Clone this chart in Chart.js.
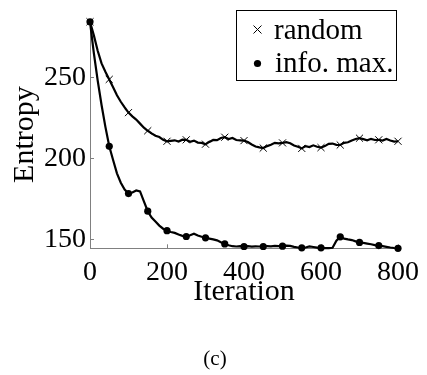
<!DOCTYPE html>
<html><head><meta charset="utf-8">
<script src="https://cdn.jsdelivr.net/npm/chart.js@4/dist/chart.umd.min.js"></script>
<style>html,body{margin:0;padding:0;background:#fff;}</style>
</head><body>
<canvas id="c" width="427" height="375" style="display:block;width:427px;height:375px"></canvas>
<script>
const iterations = [0,10,20,30,40,50,60,70,80,90,100,110,120,130,140,150,160,170,180,190,200,210,220,230,240,250,260,270,280,290,300,310,320,330,340,350,360,370,380,390,400,410,420,430,440,450,460,470,480,490,500,510,520,530,540,550,560,570,580,590,600,610,620,630,640,650,660,670,680,690,700,710,720,730,740,750,760,770,780,790,800];
const randomEntropy = [284.4,276,266.5,258.7,253.5,248.8,244,239,235,231.5,228.3,226,224,221.5,219,217.1,215.5,214,213.2,211.5,210.6,210.9,211.2,210.4,211.6,211.5,210.3,211.0,209.8,209.6,208.8,210.2,211.4,211.3,212.6,213.1,212.0,212.6,211.4,211.2,211.0,210.1,208.6,207.4,206.8,206.4,207.6,208.4,209.6,209.3,209.6,210.1,209.4,208.0,207.2,206.2,207.6,207.0,208.1,207.2,206.7,207.6,209.0,209.2,208.4,208.3,209.6,210.0,211.1,212.0,212.5,211.9,211.2,212.1,211.4,211.5,211.0,212.0,211.1,210.4,210.6];
const infoMaxEntropy = [284.4,265,248,233,219.5,207.5,199,190.8,185,180.8,178.3,179,180.2,179.6,173.5,167.4,163.5,161,158.5,156.6,155.4,154.6,154,153,152.2,151.8,152.6,153.5,152.4,151.6,151,150.5,150,149.4,148.2,147.2,146.4,145.8,145.6,145.8,145.6,145.8,145.5,145.7,145.6,145.6,145.9,145.7,146,145.8,145.8,146.2,146,145.4,145,144.8,145,145.7,145.3,144.9,144.8,144.6,144.6,144.8,149.2,151.6,150.5,150,149.6,148.8,148.1,147.8,147.4,147,146.5,146.2,145.8,145.4,145,144.7,144.5];
const markerIterations = [0,50,100,150,200,250,300,350,400,450,500,550,600,650,700,750,800];
const xTickValues = [0,200,400,600,800];
const yTickValues = [150,200,250];
const seriesLabels = ['random','info. max.'];
const xTitle = 'Iteration';
const yTitle = 'Entropy';
const caption = '(c)';

const FONT = "'Liberation Serif', 'Times New Roman', serif";
const pts = arr => iterations.map((x,i)=>({x:x, y:arr[i]}));
const isMarker = ctx => ctx.raw && markerIterations.includes(ctx.raw.x);

const inwardTicks = {
  id:'inwardTicks',
  beforeDatasetsDraw(chart){
    const {ctx, chartArea:a, scales:{x,y}} = chart;
    ctx.save(); ctx.strokeStyle='#808080'; ctx.lineWidth=1;
    xTickValues.forEach(v=>{const px=Math.round(x.getPixelForValue(v))+0.5; ctx.beginPath(); ctx.moveTo(px,a.bottom); ctx.lineTo(px,a.bottom-4); ctx.stroke();});
    yTickValues.forEach(v=>{const py=Math.round(y.getPixelForValue(v))+0.5; ctx.beginPath(); ctx.moveTo(a.left,py); ctx.lineTo(a.left+4,py); ctx.stroke();});
    ctx.restore();
  }
};

const legendBox = {
  id:'legendBox',
  afterDatasetsDraw(chart){
    const ctx = chart.ctx;
    ctx.save();
    ctx.fillStyle='#fff'; ctx.fillRect(236.5,10.5,160,70);
    ctx.strokeStyle='#000'; ctx.lineWidth=1; ctx.strokeRect(236.5,10.5,160,70);
    ctx.beginPath(); ctx.moveTo(253.5,25.5); ctx.lineTo(261.5,33.5); ctx.moveTo(261.5,25.5); ctx.lineTo(253.5,33.5); ctx.stroke();
    ctx.fillStyle='#000'; ctx.beginPath(); ctx.arc(257.5,63.5,3.6,0,Math.PI*2); ctx.fill();
    ctx.font = "29px " + FONT; ctx.textBaseline='alphabetic'; ctx.textAlign='left';
    ctx.fillText(chart.data.datasets[0].label, 274, 38.5);
    ctx.fillText(chart.data.datasets[1].label, 275, 71.5);
    ctx.restore();
  }
};

const captionText = {
  id:'captionText',
  afterDraw(chart){
    const ctx = chart.ctx;
    ctx.save();
    ctx.fillStyle='#000'; ctx.font = "21px " + FONT; ctx.textAlign='center'; ctx.textBaseline='middle';
    ctx.fillText(caption, 215, 359);
    ctx.restore();
  }
};

new Chart(document.getElementById('c'), {
  type:'line',
  data:{datasets:[
    {label:seriesLabels[0], data:pts(randomEntropy), borderColor:'#000', borderWidth:2.2, tension:0, clip:false,
     pointStyle:'crossRot', pointRadius:ctx=>isMarker(ctx)?5:0, pointBorderWidth:1, pointBorderColor:'#000', pointBackgroundColor:'#000', pointHoverRadius:0},
    {label:seriesLabels[1], data:pts(infoMaxEntropy), borderColor:'#000', borderWidth:2.2, tension:0, clip:false,
     pointStyle:'circle', pointRadius:ctx=>isMarker(ctx)?3.6:0, pointBorderWidth:0, pointBorderColor:'#000', pointBackgroundColor:'#000', pointHoverRadius:0}
  ]},
  options:{
    responsive:false, animation:false, devicePixelRatio:1,
    layout:{padding:{top:4.3,left:0,right:27,bottom:28}},
    plugins:{
      legend:{display:false}, tooltip:{enabled:false}, title:{display:false}
    },
    scales:{
      x:{type:'linear', min:0, max:800,
        afterBuildTicks:s=>{s.ticks = xTickValues.map(v=>({value:v}));},
        afterFit:s=>{s.height=98.7;},
        grid:{display:false, drawTicks:false},
        border:{display:true,color:'#808080',width:1},
        ticks:{color:'#000', font:{family:FONT,size:28}, padding:8, maxRotation:0, autoSkip:false},
        title:{display:true, text:xTitle, color:'#000', font:{family:FONT,size:30}, padding:{top:0,bottom:37}}
      },
      y:{type:'linear', min:144.5, max:285,
        afterBuildTicks:s=>{s.ticks = yTickValues.map(v=>({value:v}));},
        afterFit:s=>{s.width=90;},
        grid:{display:false, drawTicks:false},
        border:{display:true,color:'#808080',width:1},
        ticks:{color:'#000', font:{family:FONT,size:28}, padding:4, autoSkip:false},
        title:{display:true, text:yTitle, color:'#000', font:{family:FONT,size:30}, padding:{top:7,bottom:0}}
      }
    }
  },
  plugins:[inwardTicks, legendBox, captionText]
});
</script>
</body></html>
